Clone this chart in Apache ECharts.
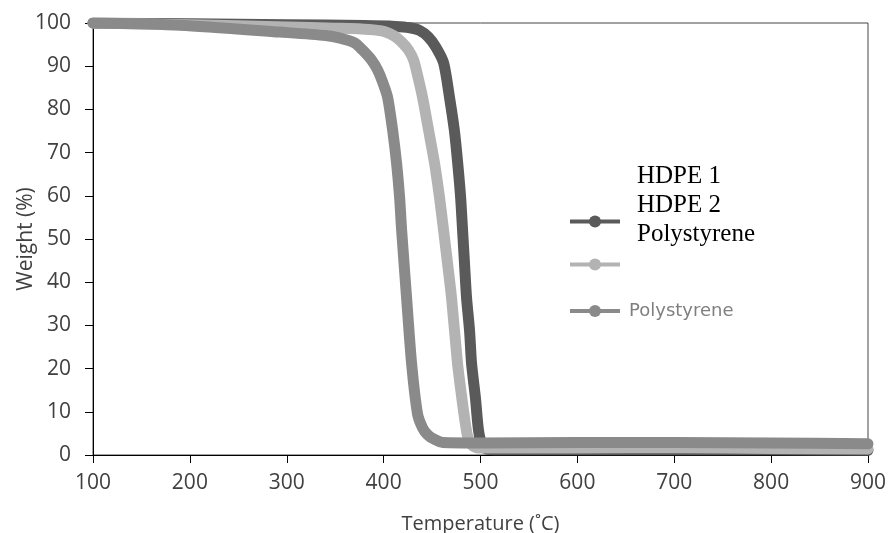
<!DOCTYPE html>
<html>
<head>
<meta charset="utf-8">
<script src="https://cdn.jsdelivr.net/npm/echarts@6/dist/echarts.min.js"></script>
<style>html,body{margin:0;padding:0;background:#fff}#c{width:889px;height:533px}</style>
</head>
<body>
<div id="c"></div>
<script>
var xTicks = [100, 200, 300, 400, 500, 600, 700, 800, 900];
var yTicks = [0, 10, 20, 30, 40, 50, 60, 70, 80, 90, 100];
var seriesNames = ['HDPE 1', 'HDPE 2', 'Polystyrene'];

var hdpe1T = [100, 200, 300, 380, 412, 427, 437, 446, 454, 462, 468, 473, 476.5, 479.5, 481.5, 483.5, 485.6, 488.7, 490.8, 494.8, 498, 502, 507, 520, 600, 700, 800, 900];
var hdpe1W = [100, 99.8, 99.6, 99.4, 99.2, 98.9, 98.3, 96.8, 94.4, 90.7, 82.8, 75.2, 67.5, 59.6, 52, 44.3, 36.4, 28.8, 21.1, 13.2, 5.6, 2.1, 1.3, 1.2, 1.2, 1.2, 1.2, 1.1];

var hdpe2T = [100, 200, 300, 350, 385, 401, 411, 418.6, 425.8, 431, 435, 440.2, 446.4, 452.6, 457.7, 461.9, 466, 470.1, 476.3, 480.4, 483.5, 486.6, 490.7, 497, 520, 600, 700, 800, 900];
var hdpe2W = [100, 99.6, 99.1, 98.8, 98.5, 98, 97, 95.6, 93.7, 91.4, 87.9, 82.8, 75.2, 67.5, 59.6, 52, 44.3, 36.4, 21.1, 13.7, 8.6, 4.4, 2.4, 1.6, 1.6, 1.6, 1.7, 1.5, 1.4];

var polyT = [100, 190, 293, 340, 355, 370, 378.4, 387.6, 393.8, 399, 404.1, 409.3, 413.4, 416.5, 418.6, 423.7, 428.9, 435, 440.2, 445.4, 452.6, 461, 500, 600, 700, 800, 900];
var polyW = [100, 99.5, 97.9, 97.1, 96.5, 95.4, 93.7, 91.4, 89.1, 86.3, 82.8, 75.2, 67.5, 59.6, 52, 36.4, 21.1, 9.5, 6.3, 4.7, 3.6, 2.9, 2.8, 2.9, 2.9, 2.8, 2.6];

var colors = ['#5a5a5a', '#b3b3b3', '#8a8a8a'];

function pairs(t, w) { return t.map(function (v, i) { return [v, w[i]]; }); }
var datasets = [pairs(hdpe1T, hdpe1W), pairs(hdpe2T, hdpe2W), pairs(polyT, polyW)];

var chart = echarts.init(document.getElementById('c'), null, {renderer: 'canvas'});

var series = seriesNames.map(function (n, i) {
  return {
    name: n, type: 'line', data: datasets[i], showSymbol: false, symbol: 'circle',
    smooth: 0.25,
    lineStyle: {color: colors[i], width: 11, cap: 'round', join: 'round'},
    itemStyle: {color: colors[i]},
    z: 2 + i, animation: false
  };
});

function mkLegend(name, top, showText) {
  return {
    data: [name], left: 568, top: top, padding: 0, orient: 'vertical',
    itemWidth: 50, itemHeight: 15,
    lineStyle: {width: 4, cap: 'butt'},
    itemStyle: {borderWidth: 0},
    selectedMode: false,
    formatter: showText ? '{a|' + name + '}' : function () { return ''; },
    textStyle: {
      fontFamily: 'DejaVu Sans', fontSize: 18, color: '#7f7f7f',
      rich: {a: {fontFamily: 'DejaVu Sans', fontSize: 18, color: '#7f7f7f', padding: [0, 0, 0, 4]}}
    }
  };
}

var labelFont = {fontFamily: 'Open Sans', fontSize: 21, color: '#404040'};

chart.setOption({
  animation: false,
  backgroundColor: '#fff',
  grid: {left: 93, right: 21, top: 23, bottom: 78, show: true, borderColor: '#444', borderWidth: 1,
         backgroundColor: 'transparent', outerBoundsMode: 'none', containLabel: false},
  xAxis: {
    type: 'value', min: xTicks[0], max: xTicks[xTicks.length - 1], interval: 100,
    name: 'Temperature (˚C)', nameLocation: 'middle', nameGap: 59, nameMoveOverlap: false,
    nameTextStyle: {fontFamily: 'Open Sans', fontSize: 20, color: '#404040'},
    axisLine: {show: true, lineStyle: {color: '#000', width: 1}},
    axisTick: {show: true, length: 8, lineStyle: {color: '#000'}},
    axisLabel: Object.assign({margin: 18}, labelFont),
    splitLine: {show: false}
  },
  yAxis: {
    type: 'value', min: yTicks[0], max: yTicks[yTicks.length - 1], interval: 10,
    name: 'Weight (%)', nameLocation: 'middle', nameGap: 56, nameMoveOverlap: false,
    nameTextStyle: {fontFamily: 'Open Sans', fontSize: 21, color: '#404040'},
    axisLine: {show: true, lineStyle: {color: '#000', width: 1}},
    axisTick: {show: true, length: 8, lineStyle: {color: '#000'}},
    axisLabel: Object.assign({margin: 22}, labelFont),
    splitLine: {show: false}
  },
  legend: [
    mkLegend(seriesNames[0], 214, false),
    mkLegend(seriesNames[1], 257, false),
    mkLegend(seriesNames[2], 302, true)
  ],
  graphic: [
    {type: 'text', left: 637, top: 164, style: {text: 'HDPE 1', font: '25px "Liberation Serif"', fill: '#000'}},
    {type: 'text', left: 637, top: 193, style: {text: 'HDPE 2', font: '25px "Liberation Serif"', fill: '#000'}},
    {type: 'text', left: 637, top: 222, style: {text: 'Polystyrene', font: '25px "Liberation Serif"', fill: '#000'}}
  ],
  series: series
});
</script>
</body>
</html>
